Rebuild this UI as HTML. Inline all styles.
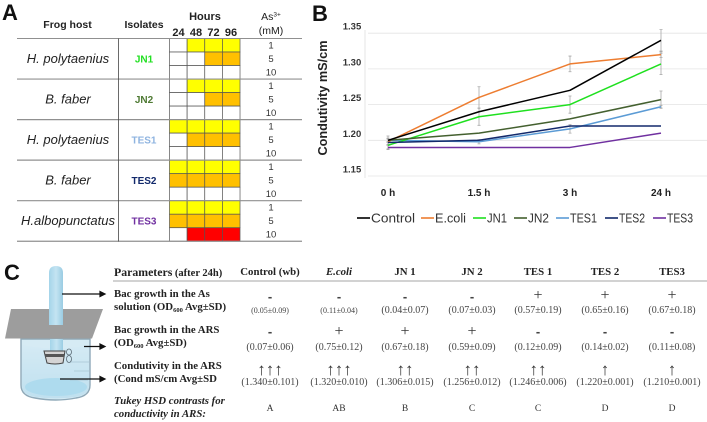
<!DOCTYPE html>
<html lang="en">
<head>
<meta charset="utf-8">
<title>Frog host isolates and conductivity figure</title>
<style>
html,body{margin:0;padding:0;background:#fff;}
#fig{position:relative;width:707px;height:422px;overflow:hidden;background:#fff;filter:blur(0.3px);}
svg{position:absolute;left:0;top:0;}
text{font-family:"Liberation Sans",sans-serif;}
.serif{font-family:"Liberation Serif",serif;}
.panel{font-size:22px;font-weight:bold;fill:#111;}
.hd{font-size:10.5px;font-weight:bold;fill:#222;text-anchor:middle;}
.hr{font-size:11px;font-weight:bold;fill:#222;text-anchor:middle;}
.host{font-size:13px;font-style:italic;fill:#222;text-anchor:middle;}
.iso{font-size:10px;font-weight:bold;text-anchor:middle;}
.conc{font-size:9.5px;fill:#333;text-anchor:middle;}
.ytick{font-size:9.5px;font-weight:bold;fill:#333;text-anchor:middle;}
.xtick{font-size:10px;font-weight:bold;fill:#222;text-anchor:middle;}
.leg{font-size:12.5px;fill:#333;}
.ph{font-family:"Liberation Serif",serif;font-size:10.8px;font-weight:bold;fill:#222;text-anchor:middle;}
.rl{font-family:"Liberation Serif",serif;font-size:10.8px;font-weight:bold;fill:#222;}
.sym{font-family:"Liberation Serif",serif;font-size:16px;fill:#333;text-anchor:middle;}
.arr{font-family:"Liberation Serif",serif;font-size:17px;fill:#333;text-anchor:middle;}
.minus{font-family:"Liberation Sans",sans-serif;font-size:13px;font-weight:bold;fill:#444;text-anchor:middle;}
.val{font-family:"Liberation Serif",serif;font-size:8px;fill:#444;text-anchor:middle;}
.val2{font-family:"Liberation Serif",serif;font-size:10px;fill:#444;text-anchor:middle;}
.let{font-family:"Liberation Serif",serif;font-size:9.5px;fill:#333;text-anchor:middle;}
</style>
</head>
<body>
<div id="fig">
<svg id="root" width="707" height="422" viewBox="0 0 707 422">
  <defs>
    <linearGradient id="waterGrad" x1="0" y1="0" x2="0" y2="1">
      <stop offset="0" stop-color="#d4eaf4"/><stop offset="1" stop-color="#bfe0ef"/>
    </linearGradient>
    <linearGradient id="tubeGrad" x1="0" y1="0" x2="1" y2="0">
      <stop offset="0" stop-color="#a4d4e9"/><stop offset="0.5" stop-color="#c4e4f2"/><stop offset="1" stop-color="#9accE3"/>
    </linearGradient>
  </defs>

  <!-- Panel A -->
  <text class="panel" x="2" y="20">A</text>
  <g id="tableA">
    <text class="hd" x="67.500" y="28">Frog host</text>
    <text class="hd" x="144" y="28">Isolates</text>
    <text class="hr" x="205" y="20">Hours</text>
    <text class="hr" x="178.500" y="36">24</text>
    <text class="hr" x="196" y="36">48</text>
    <text class="hr" x="213.500" y="36">72</text>
    <text class="hr" x="231" y="36">96</text>
    <text class="hd" x="271" y="20" style="font-weight:normal">As<tspan font-size="6.500" dy="-3.500">3+</tspan></text>
    <text class="hd" x="271" y="34" style="font-weight:normal">(mM)</text>
  </g>

  <!-- Panel B -->
  <text class="panel" x="312" y="21">B</text>
  <g id="chart"></g>
  <text x="0" y="0" transform="translate(327,98) rotate(-90)" text-anchor="middle" font-size="13" font-weight="bold" fill="#222" textLength="115" lengthAdjust="spacingAndGlyphs">Condutivity mS/cm</text>
  <g>
    <g><line x1="357" x2="370" y1="218" y2="218" stroke="#000" stroke-width="1.6"/><text class="leg" x="371" y="222.500" textLength="44" lengthAdjust="spacingAndGlyphs">Control</text></g>
    <g><line x1="421" x2="434" y1="218" y2="218" stroke="#ed7d31" stroke-width="1.6"/><text class="leg" x="435" y="222.500" textLength="31" lengthAdjust="spacingAndGlyphs">E.coli</text></g>
    <g><line x1="473" x2="486" y1="218" y2="218" stroke="#1fe01f" stroke-width="1.6"/><text class="leg" x="487" y="222.500" textLength="20" lengthAdjust="spacingAndGlyphs">JN1</text></g>
    <g><line x1="514" x2="527" y1="218" y2="218" stroke="#44602f" stroke-width="1.6"/><text class="leg" x="528" y="222.500" textLength="21" lengthAdjust="spacingAndGlyphs">JN2</text></g>
    <g><line x1="556" x2="569" y1="218" y2="218" stroke="#5b9bd5" stroke-width="1.6"/><text class="leg" x="570" y="222.500" textLength="27" lengthAdjust="spacingAndGlyphs">TES1</text></g>
    <g><line x1="605" x2="618" y1="218" y2="218" stroke="#12296b" stroke-width="1.6"/><text class="leg" x="619" y="222.500" textLength="26" lengthAdjust="spacingAndGlyphs">TES2</text></g>
    <g><line x1="653" x2="666" y1="218" y2="218" stroke="#7030a0" stroke-width="1.6"/><text class="leg" x="667" y="222.500" textLength="26" lengthAdjust="spacingAndGlyphs">TES3</text></g>
  </g>

  <!-- Panel C illustration -->
  <text class="panel" x="4" y="280">C</text>
  <g>
    <path d="M21 339 V385 Q21 396 35 398 Q56 402 76 398 Q90 396 90 385 V339 Z" fill="#d6ebf4" stroke="#8fa9b8" stroke-width="1.4"/>
    <path d="M22 345 Q56 352 89 345 V385 Q89 395 75 397 Q56 400 36 397 Q22 395 22 385 Z" fill="url(#waterGrad)"/>
    <ellipse cx="56" cy="387" rx="31" ry="9" fill="#aedbee"/>
    <path d="M70 362 H89 M74 371 H89 M70 380 H88" stroke="#a8c6d4" stroke-width="0.8" fill="none"/>
    <path d="M11 309 H103 L92 338.500 H5 Z" fill="#9d9d9d"/>
    <path d="M49 325 V273 Q49 266 56 266 Q63 266 63 273 V325 Z" fill="url(#tubeGrad)"/>
    <rect x="50" y="339" width="13" height="12" fill="url(#tubeGrad)"/>
    <path d="M44 351 H65 L63 363 Q55 365 47 363 Z" fill="#d4d4d4" stroke="#444" stroke-width="1"/>
    <rect x="45" y="354" width="19" height="3" fill="#555"/>
    <ellipse cx="69" cy="352" rx="2.500" ry="3" fill="none" stroke="#5b6b75" stroke-width="0.8"/>
    <ellipse cx="69" cy="359" rx="2.500" ry="3.500" fill="none" stroke="#5b6b75" stroke-width="0.8"/>
  </g>
  <g stroke="#111" stroke-width="1.2" fill="#111">
    <line x1="62" x2="101" y1="294" y2="294"/><path d="M100 291.500 L105 294 L100 296.500 Z"/>
    <line x1="84" x2="101" y1="346.500" y2="346.500"/><path d="M100 344 L105 346.500 L100 349 Z"/>
    <line x1="60" x2="101" y1="379" y2="379"/><path d="M100 376.500 L105 379 L100 381.500 Z"/>
  </g>

  <!-- Panel C table -->
  <g>
    <text class="serif" x="114" y="276" font-size="11.800" font-weight="bold" fill="#222">Parameters<tspan font-size="10.500"> (after 24h)</tspan></text>
    <text class="ph" x="270" y="275">Control (wb)</text>
    <text class="ph" x="339" y="275" style="font-style:italic">E.coli</text>
    <text class="ph" x="405" y="275">JN 1</text>
    <text class="ph" x="472" y="275">JN 2</text>
    <text class="ph" x="538" y="275">TES 1</text>
    <text class="ph" x="605" y="275">TES 2</text>
    <text class="ph" x="672" y="275">TES3</text>
    <line x1="113" x2="707" y1="281" y2="281" stroke="#888" stroke-width="0.8"/>

    <text class="rl" x="114" y="297">Bac growth in the As</text>
    <text class="rl" x="114" y="310">solution (OD<tspan font-size="6.500" dy="2">600</tspan><tspan dy="-2"> Avg±SD)</tspan></text>
    <text class="rl" x="114" y="333">Bac growth in the ARS</text>
    <text class="rl" x="114" y="346">(OD<tspan font-size="6.500" dy="2">600</tspan><tspan dy="-2"> Avg±SD)</tspan></text>
    <text class="rl" x="114" y="369">Condutivity in the ARS</text>
    <text class="rl" x="114" y="382">(Cond mS/cm Avg±SD</text>
    <text class="rl" x="114" y="404" style="font-style:italic">Tukey HSD contrasts for</text>
    <text class="rl" x="114" y="417" style="font-style:italic">conductivity in ARS:</text>

    <text class="minus" x="270" y="301">-</text>
    <text class="minus" x="339" y="301">-</text>
    <text class="minus" x="405" y="301">-</text>
    <text class="minus" x="472" y="301">-</text>
    <text class="sym" x="538" y="300">+</text>
    <text class="sym" x="605" y="300">+</text>
    <text class="sym" x="672" y="300">+</text>

    <text class="val" x="270" y="313">(0.05±0.09)</text>
    <text class="val" x="339" y="313">(0.11±0.04)</text>
    <text class="val2" x="405" y="313">(0.04±0.07)</text>
    <text class="val2" x="472" y="313">(0.07±0.03)</text>
    <text class="val2" x="538" y="313">(0.57±0.19)</text>
    <text class="val2" x="605" y="313">(0.65±0.16)</text>
    <text class="val2" x="672" y="313">(0.67±0.18)</text>

    <text class="minus" x="270" y="336">-</text>
    <text class="sym" x="339" y="336">+</text>
    <text class="sym" x="405" y="336">+</text>
    <text class="sym" x="472" y="336">+</text>
    <text class="minus" x="538" y="336">-</text>
    <text class="minus" x="605" y="336">-</text>
    <text class="minus" x="672" y="336">-</text>

    <text class="val2" x="270" y="350">(0.07±0.06)</text>
    <text class="val2" x="339" y="350">(0.75±0.12)</text>
    <text class="val2" x="405" y="350">(0.67±0.18)</text>
    <text class="val2" x="472" y="350">(0.59±0.09)</text>
    <text class="val2" x="538" y="350">(0.12±0.09)</text>
    <text class="val2" x="605" y="350">(0.14±0.02)</text>
    <text class="val2" x="672" y="350">(0.11±0.08)</text>

    <text class="arr" x="270" y="375">↑↑↑</text>
    <text class="arr" x="339" y="375">↑↑↑</text>
    <text class="arr" x="405" y="375">↑↑</text>
    <text class="arr" x="472" y="375">↑↑</text>
    <text class="arr" x="538" y="375">↑↑</text>
    <text class="arr" x="605" y="375">↑</text>
    <text class="arr" x="672" y="375">↑</text>

    <text class="val2" x="270" y="385">(1.340±0.101)</text>
    <text class="val2" x="339" y="385">(1.320±0.010)</text>
    <text class="val2" x="405" y="385">(1.306±0.015)</text>
    <text class="val2" x="472" y="385">(1.256±0.012)</text>
    <text class="val2" x="538" y="385">(1.246±0.006)</text>
    <text class="val2" x="605" y="385">(1.220±0.001)</text>
    <text class="val2" x="672" y="385">(1.210±0.001)</text>

    <text class="let" x="270" y="411">A</text>
    <text class="let" x="339" y="411">AB</text>
    <text class="let" x="405" y="411">B</text>
    <text class="let" x="472" y="411">C</text>
    <text class="let" x="538" y="411">C</text>
    <text class="let" x="605" y="411">D</text>
    <text class="let" x="672" y="411">D</text>
  </g>
</svg>
</div>
<script>
// Line chart data
const timePoints = ['0 h', '1.5 h', '3 h', '24 h'];
const yTicks = [1.15, 1.20, 1.25, 1.30, 1.35];
const seriesNames = ['TES1', 'E.coli', 'JN1', 'JN2', 'Control', 'TES2', 'TES3'];
const seriesColors = ['#5b9bd5', '#ed7d31', '#1fe01f', '#44602f', '#000000', '#12296b', '#7030a0'];
const tes1Values = [1.200, 1.198, 1.216, 1.247];
const ecoliValues = [1.198, 1.260, 1.307, 1.320];
const jn1Values = [1.193, 1.233, 1.250, 1.307];
const jn2Values = [1.200, 1.210, 1.230, 1.257];
const controlValues = [1.200, 1.240, 1.270, 1.340];
const tes2Values = [1.197, 1.200, 1.220, 1.220];
const tes3Values = [1.190, 1.190, 1.190, 1.210];
const tes1Errors = [0.006, 0.003, 0.006, 0.002];
const ecoliErrors = [0.004, 0.015, 0.011, 0.004];
const jn1Errors = [0.005, 0.012, 0.012, 0.015];
const jn2Errors = [0.002, 0, 0, 0.012];
const controlErrors = [0.003, 0, 0, 0.015];
const tes2Errors = [0, 0, 0, 0];
const tes3Errors = [0.003, 0, 0, 0];
const allValues = [tes1Values, ecoliValues, jn1Values, jn2Values, controlValues, tes2Values, tes3Values];
const allErrors = [tes1Errors, ecoliErrors, jn1Errors, jn2Errors, controlErrors, tes2Errors, tes3Errors];

// Isolate table data: 0 none, 1 yellow, 2 orange, 3 red
const hostNames = ['H. polytaenius', 'B. faber', 'H. polytaenius', 'B. faber', 'H.albopunctatus'];
const isolateNames = ['JN1', 'JN2', 'TES1', 'TES2', 'TES3'];
const isolateColors = ['#22e022', '#4f7a34', '#8fb4e0', '#12296b', '#7030a0'];
const concentrations = [1, 5, 10];
const growthJn1 = [[0,1,1,1],[0,0,2,2],[0,0,0,0]];
const growthJn2 = [[0,1,1,1],[0,0,2,2],[0,0,0,0]];
const growthTes1 = [[1,1,1,1],[0,2,2,2],[0,0,0,0]];
const growthTes2 = [[1,1,1,1],[2,2,2,2],[0,0,0,0]];
const growthTes3 = [[1,1,1,1],[2,2,2,2],[0,3,3,3]];
const growthAll = [growthJn1, growthJn2, growthTes1, growthTes2, growthTes3];
const growthFill = ['#ffffff', '#ffff00', '#ffc000', '#ff0000'];

const NS = 'http://www.w3.org/2000/svg';
function mk(parent, tag, attrs, txt) {
  const el = document.createElementNS(NS, tag);
  for (const k in attrs) el.setAttribute(k, attrs[k]);
  if (txt !== undefined) el.textContent = txt;
  parent.appendChild(el);
  return el;
}

// Axis functions
const xScale = i => 388 + i * 91;
const yScale = v => 140.3 - (v - 1.20) * 714;

const chart = document.getElementById('chart');
yTicks.forEach(t => {
  const g = mk(chart, 'line', {x1: 368, x2: 707, y1: yScale(t), y2: yScale(t), stroke: '#e4e4e4', 'stroke-width': 0.8});
  
  
  const l = mk(chart, 'text', {class: 'ytick', x: 352, y: yScale(t) - 3.5}, t.toFixed(2));
  
  
});
const yAxisLine = mk(chart, 'line', {x1: 365, x2: 365, y1: 30, y2: 178, stroke: '#e0e0e0', 'stroke-width': 0.8});


timePoints.forEach((t, i) => {
  const l = mk(chart, 'text', {class: 'xtick', x: xScale(i), y: 196}, t);
  
  
});
allErrors.forEach((errs, s) => {
  errs.forEach((e, i) => {
    if (!e) return;
    const x = xScale(i), v = allValues[s][i];
    const bar = mk(chart, 'path', {
      d: 'M' + (x - 1.5) + ' ' + yScale(v + e) + 'H' + (x + 1.5) + 'M' + x + ' ' + yScale(v + e) + 'V' + yScale(v - e) + 'M' + (x - 1.5) + ' ' + yScale(v - e) + 'H' + (x + 1.5),
      stroke: '#a8a8a8', 'stroke-width': 0.8, fill: 'none'
    });
    
    
  });
});
allValues.forEach((vals, s) => {
  const pts = vals.map((v, i) => xScale(i) + ',' + yScale(v)).join(' ');
  const line = mk(chart, 'polyline', {points: pts, fill: 'none', stroke: seriesColors[s], 'stroke-width': 1.5, 'stroke-linejoin': 'round'});
  
  
});

// Isolate table
const tableA = document.getElementById('tableA');
const colX = i => 169.5 + i * 17.63;
const rowY = (g, r) => 38.5 + g * 40.55 + r * 13.52;
growthAll.forEach((grid, g) => {
  grid.forEach((row, r) => {
    row.forEach((level, c) => {
      const cell = mk(tableA, 'rect', {x: colX(c), y: rowY(g, r), width: 17.63, height: 13.52, fill: growthFill[level], stroke: '#555', 'stroke-width': 0.7});
      
      
    });
    const conc = mk(tableA, 'text', {class: 'conc', x: 271, y: rowY(g, r) + 10}, concentrations[r]);
    
    
  });
  const host = mk(tableA, 'text', {class: 'host', x: 68, y: rowY(g, 1) + 11}, hostNames[g]);
  
  
  const iso = mk(tableA, 'text', {class: 'iso', x: 144, y: rowY(g, 1) + 10.5, fill: isolateColors[g]}, isolateNames[g]);
  
  
});
for (let g = 0; g <= 5; g++) {
  const rule = mk(tableA, 'line', {x1: 17, x2: 302, y1: rowY(g, 0), y2: rowY(g, 0), stroke: '#909090', 'stroke-width': g === 0 ? 0.9 : 1.2});
  
  
}
const divider = mk(tableA, 'line', {x1: 118.5, x2: 118.5, y1: 38.5, y2: 241.5, stroke: '#444', 'stroke-width': 0.8});


</script>
</body>
</html>
